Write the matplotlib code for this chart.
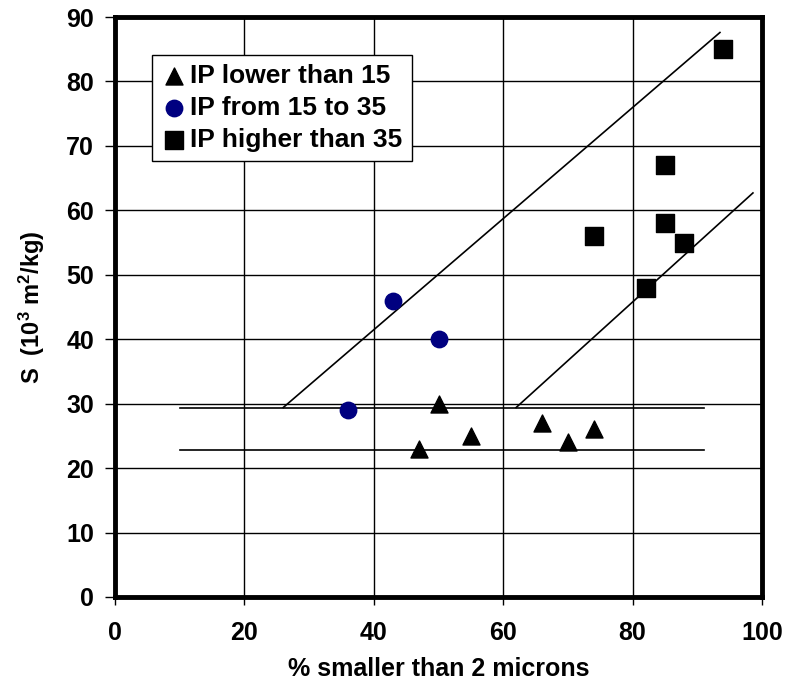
import matplotlib
matplotlib.use("Agg")
import matplotlib.pyplot as plt

# valeurs
ip_low_x = [47, 50, 55, 66, 70, 74]
ip_low_y = [23, 30, 25, 27, 24, 26]
ip_mid_x = [36, 43, 50]
ip_mid_y = [29, 46, 40]
ip_high_x = [74, 82, 85, 85, 88, 94]
ip_high_y = [56, 48, 67, 58, 55, 85]

# droites d'encadrement (xs, ys)
bound_lines = [
    ([10, 91], [29.4, 29.4]),
    ([10, 91], [22.8, 22.8]),
    ([26, 93.5], [29.4, 87.6]),
    ([62, 98.6], [29.4, 62.7]),
]

plt.rcParams['font.family'] = ['Liberation Sans', 'DejaVu Sans']
plt.rcParams['font.weight'] = 'bold'
plt.rcParams['mathtext.fontset'] = 'custom'
plt.rcParams['mathtext.bf'] = 'Liberation Sans:bold'
plt.rcParams['mathtext.rm'] = 'Liberation Sans:bold'
plt.rcParams['mathtext.default'] = 'bf'

fig = plt.figure(figsize=(7.85, 6.92), dpi=100)
ax = fig.add_axes([0.1465, 0.1373, 0.8242, 0.8381])

for xs, ys in bound_lines:
    ax.plot(xs, ys, color='black', lw=1.2, zorder=2)

ax.scatter(ip_low_x, ip_low_y, marker='^', s=150, color='black', zorder=3,
           label='IP lower than 15')
ax.scatter(ip_mid_x, ip_mid_y, marker='o', s=140, color='#000080', zorder=3,
           label='IP from 15 to 35')
ax.scatter(ip_high_x, ip_high_y, marker='s', s=170, color='black', zorder=3,
           label='IP higher than 35')

ax.set_xlim(0, 100)
ax.set_ylim(0, 90)
ax.set_xticks(range(0, 101, 20))
ax.set_yticks(range(0, 91, 10))
ax.grid(True, color='black', lw=1.0)
ax.set_axisbelow(True)
for sp in ax.spines.values():
    sp.set_linewidth(3.5)
ax.tick_params(axis='y', direction='out', length=7, width=1, labelsize=18, pad=8)
ax.tick_params(axis='x', direction='out', length=6, width=1, labelsize=18, pad=11)
for lbl in ax.get_xticklabels() + ax.get_yticklabels():
    lbl.set_fontweight('bold')

ax.set_xlabel('% smaller than 2 microns', fontsize=18, fontweight='bold', labelpad=9)
ax.set_ylabel('S  (10$^3$ m$^2$/kg)', fontsize=17, fontweight='bold', labelpad=14)

leg = ax.legend(loc='upper left', bbox_to_anchor=(0.057, 0.935),
                prop={'weight': 'bold', 'size': 19},
                frameon=True, fancybox=False, edgecolor='black', framealpha=1,
                handletextpad=0.1, handlelength=1.0, borderpad=0.35,
                labelspacing=0.3, borderaxespad=0)
leg.get_frame().set_linewidth(1.0)

fig.savefig('out.png', dpi=100)
